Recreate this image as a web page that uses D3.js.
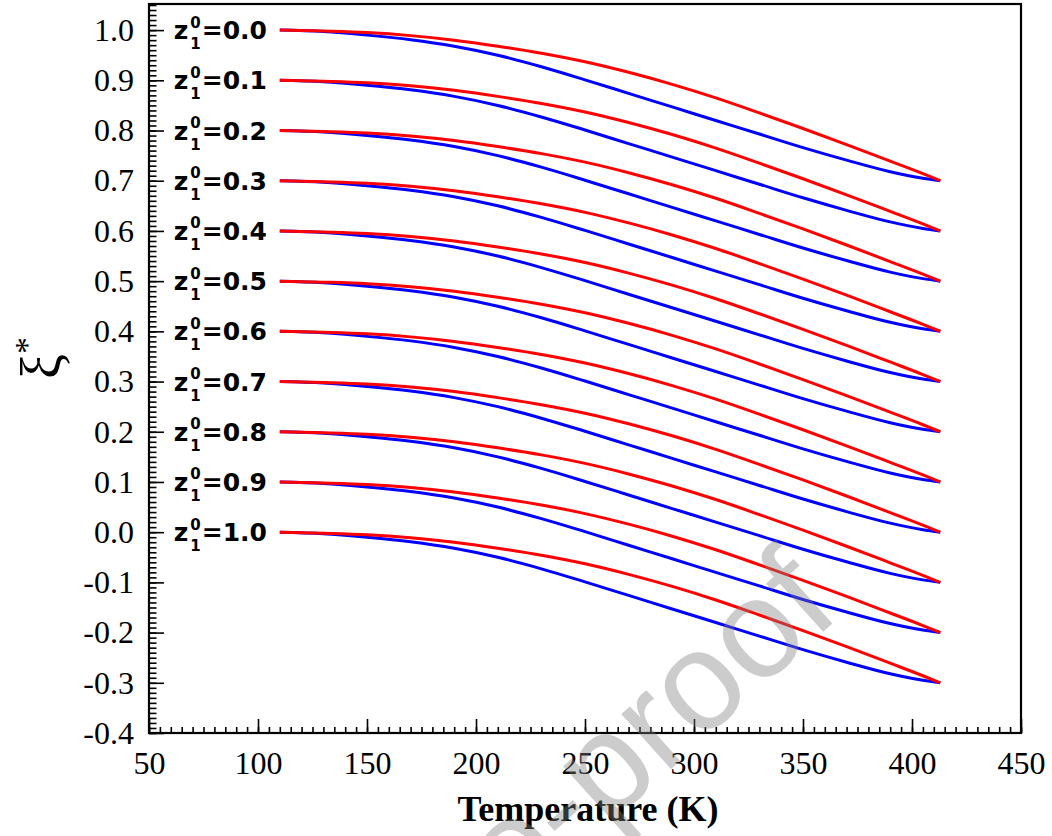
<!DOCTYPE html>
<html>
<head>
<meta charset="utf-8">
<script src="https://cdn.jsdelivr.net/npm/d3@7"></script>
<style>
  body { margin: 0; background: #fff; }
  svg { display: block; }
</style>
</head>
<body>
<svg id="chart" width="1052" height="836"></svg>
<script>
const temps = [110, 130, 150, 170, 190, 210, 230, 250, 270, 290, 310, 330, 350, 370, 390, 405, 413];

// initial composition z1^0 for each pair of curves
const z10 = ["0.0", "0.1", "0.2", "0.3", "0.4", "0.5", "0.6", "0.7", "0.8", "0.9", "1.0"];

// red (upper) curves, one row per z1^0
const redCurves = [
  [1.000, .998, .995, .989, .980, .968, .954, .937, .916, .892, .865, .835, .804, .772, .739, .714, .700],
  [.900, .898, .895, .889, .880, .868, .854, .837, .816, .792, .765, .735, .704, .672, .639, .614, .600],
  [.800, .798, .795, .789, .780, .768, .754, .737, .716, .692, .665, .635, .604, .572, .539, .514, .500],
  [.700, .698, .695, .689, .680, .668, .654, .637, .616, .592, .565, .535, .504, .472, .439, .414, .400],
  [.600, .598, .595, .589, .580, .568, .554, .537, .516, .492, .465, .435, .404, .372, .339, .314, .300],
  [.500, .498, .495, .489, .480, .468, .454, .437, .416, .392, .365, .335, .304, .272, .239, .214, .200],
  [.400, .398, .395, .389, .380, .368, .354, .337, .316, .292, .265, .235, .204, .172, .139, .114, .100],
  [.300, .298, .295, .289, .280, .268, .254, .237, .216, .192, .165, .135, .104, .072, .039, .014, .000],
  [.200, .198, .195, .189, .180, .168, .154, .137, .116, .092, .065, .035, .004, -.028, -.061, -.086, -.100],
  [.100, .098, .095, .089, .080, .068, .054, .037, .016, -.008, -.035, -.065, -.096, -.128, -.161, -.186, -.200],
  [.000, -.002, -.005, -.011, -.020, -.032, -.046, -.063, -.084, -.108, -.135, -.165, -.196, -.228, -.261, -.286, -.300]
];

// blue (lower) curves
const blueCurves = [
  [1.000, .997, .990, .981, .968, .950, .927, .901, .874, .847, .820, .793, .766, .741, .718, .705, .700],
  [.900, .897, .890, .881, .868, .850, .827, .801, .774, .747, .720, .693, .666, .641, .618, .605, .600],
  [.800, .797, .790, .781, .768, .750, .727, .701, .674, .647, .620, .593, .566, .541, .518, .505, .500],
  [.700, .697, .690, .681, .668, .650, .627, .601, .574, .547, .520, .493, .466, .441, .418, .405, .400],
  [.600, .597, .590, .581, .568, .550, .527, .501, .474, .447, .420, .393, .366, .341, .318, .305, .300],
  [.500, .497, .490, .481, .468, .450, .427, .401, .374, .347, .320, .293, .266, .241, .218, .205, .200],
  [.400, .397, .390, .381, .368, .350, .327, .301, .274, .247, .220, .193, .166, .141, .118, .105, .100],
  [.300, .297, .290, .281, .268, .250, .227, .201, .174, .147, .120, .093, .066, .041, .018, .005, .000],
  [.200, .197, .190, .181, .168, .150, .127, .101, .074, .047, .020, -.007, -.034, -.059, -.082, -.095, -.100],
  [.100, .097, .090, .081, .068, .050, .027, .001, -.026, -.053, -.080, -.107, -.134, -.159, -.182, -.195, -.200],
  [.000, -.003, -.010, -.019, -.032, -.050, -.073, -.099, -.126, -.153, -.180, -.207, -.234, -.259, -.282, -.295, -.300]
];

const xTicks = [50, 100, 150, 200, 250, 300, 350, 400, 450];
const yTicks = [-0.4, -0.3, -0.2, -0.1, 0.0, 0.1, 0.2, 0.3, 0.4, 0.5, 0.6, 0.7, 0.8, 0.9, 1.0];

const svg = d3.select("#chart");
const plotL = 149, plotR = 1021, plotT = 4, plotB = 733;

const x = d3.scaleLinear().domain([50, 450]).range([plotL, plotR]);
const y = d3.scaleLinear().domain([-0.4, 1.052]).range([plotB, plotT]);

const serif = "'Liberation Serif', 'Times New Roman', serif";

// minor ticks
svg.append("g")
  .attr("transform", `translate(0,${plotB})`)
  .call(d3.axisBottom(x).ticks(80).tickSize(-6).tickFormat(""))
  .call(g => g.select(".domain").remove());
svg.append("g")
  .attr("transform", `translate(${plotL},0)`)
  .call(d3.axisLeft(y).tickValues(d3.range(-40, 106).map(i => i / 100)).tickSize(-7.5).tickFormat(""))
  .call(g => g.select(".domain").remove());

// major ticks + labels
const xAxis = svg.append("g")
  .attr("transform", `translate(0,${plotB})`)
  .call(d3.axisBottom(x).tickValues(xTicks).tickSize(-14).tickPadding(18).tickFormat(d3.format("d")));
const yAxis = svg.append("g")
  .attr("transform", `translate(${plotL},0)`)
  .call(d3.axisLeft(y).tickValues(yTicks).tickSize(-15).tickPadding(15).tickFormat(d3.format(".1f")));

[xAxis, yAxis].forEach(g => {
  g.select(".domain").remove();
  g.selectAll("text").attr("font-family", serif).attr("font-size", 32).attr("fill", "#000");
});
yAxis.selectAll("text").text(d => d3.format(".1f")(d).replace("−", "-"));
svg.selectAll(".tick line").attr("stroke", "#000").attr("stroke-width", 1.6);

// frame
svg.append("rect")
  .attr("x", plotL).attr("y", plotT)
  .attr("width", plotR - plotL).attr("height", plotB - plotT)
  .attr("fill", "none").attr("stroke", "#000").attr("stroke-width", 2.2);

// curves
const line = d3.line()
  .x((d, i) => x(temps[i]))
  .y(d => y(d))
  .curve(d3.curveMonotoneX);

svg.append("g").selectAll("path.blue")
  .data(blueCurves).enter().append("path")
  .attr("d", line)
  .attr("fill", "none").attr("stroke", "#0000ff").attr("stroke-width", 3);

svg.append("g").selectAll("path.red")
  .data(redCurves).enter().append("path")
  .attr("d", line)
  .attr("fill", "none").attr("stroke", "#ff0000").attr("stroke-width", 3);

// pair labels  z1^0 = ...
const sans = "'DejaVu Sans', sans-serif";
z10.forEach((z, i) => {
  const base = y(redCurves[i][0]) + 9;
  const g = svg.append("g").attr("font-family", sans).attr("font-weight", "bold").attr("fill", "#000");
  const zt = g.append("text").attr("font-size", 25).attr("y", base).text("z");
  const sup = g.append("text").attr("font-size", 15).attr("y", base - 11.5).text("0");
  const sub = g.append("text").attr("font-size", 15).attr("y", base + 10).text("1");
  const rest = g.append("text").attr("font-size", 25).attr("y", base).text("=" + z);
  const wz = zt.node().getComputedTextLength();
  const ws = sup.node().getComputedTextLength();
  const wr = rest.node().getComputedTextLength();
  const x0 = 267 - (wz + 2 + ws + 1 + wr);
  zt.attr("x", x0);
  sup.attr("x", x0 + wz + 2);
  sub.attr("x", x0 + wz + 2);
  rest.attr("x", x0 + wz + 2 + ws + 1);
});

// axis titles
svg.append("text")
  .attr("x", (plotL + plotR) / 2 + 3).attr("y", 821)
  .attr("text-anchor", "middle")
  .attr("font-family", serif).attr("font-weight", "bold").attr("font-size", 36)
  .text("Temperature (K)");

const yt = svg.append("text")
  .attr("transform", "translate(60,358) rotate(-90)")
  .attr("text-anchor", "middle")
  .attr("font-family", serif).attr("font-size", 56);
yt.append("tspan").text("ξ");
yt.append("tspan").attr("font-size", 34).attr("dy", -22).text("*");

// watermark, runs off the bottom edge as in the source figure
svg.append("text")
  .attr("transform", "translate(843,614) rotate(-42)")
  .attr("text-anchor", "end")
  .attr("font-family", "'Liberation Sans', Arial, sans-serif")
  .attr("font-size", 140)
  .attr("fill", "#808080").attr("fill-opacity", 0.4)
  .text("Pre-proof");
</script>
</body>
</html>
